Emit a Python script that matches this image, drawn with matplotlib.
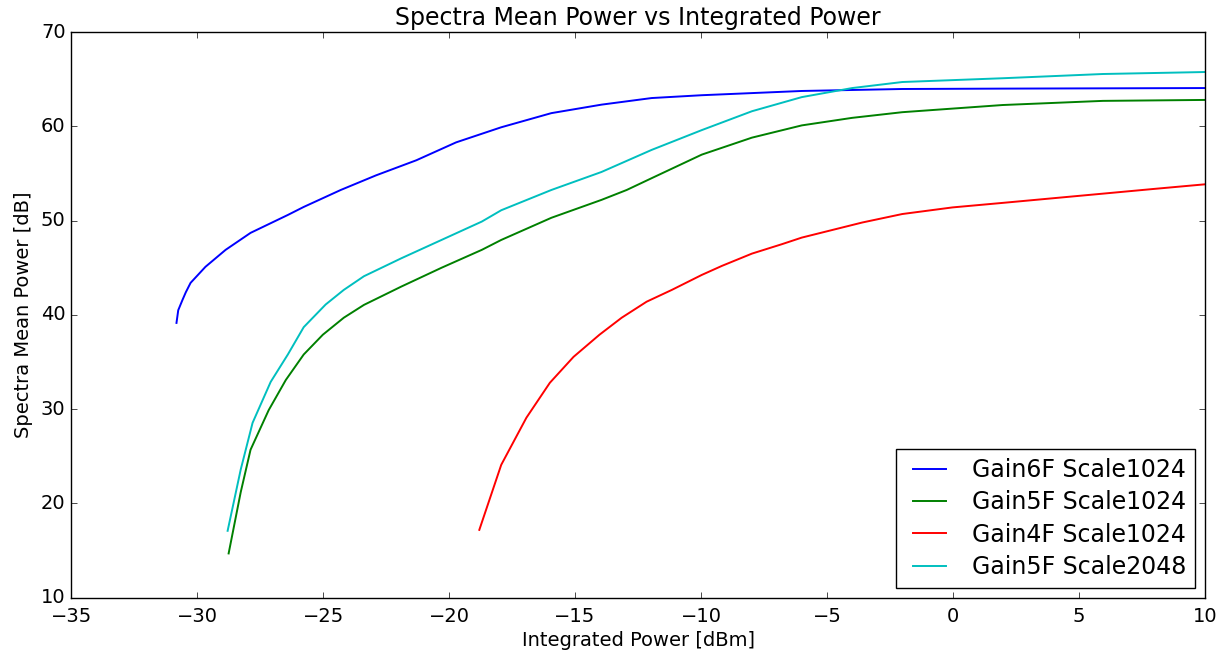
import matplotlib
matplotlib.use("Agg")
import matplotlib.pyplot as plt

plt.style.use("classic")

# measured curves: integrated power [dBm] -> spectra mean power [dB]
gain6_x = [-30.82, -30.75, -30.58, -30.45, -30.26, -29.67, -28.87, -27.88, -26.4, -25.77,
           -24.3, -22.9, -21.3, -19.72, -17.93, -15.94, -13.95, -11.96, -9.97, -6.0,
           -2.01, 1.97, 10.0]
gain6_y = [39.15, 40.5, 41.6, 42.4, 43.4, 45.1, 46.9, 48.7, 50.6, 51.45,
           53.25, 54.8, 56.4, 58.3, 59.9, 61.4, 62.3, 63.0, 63.3, 63.75,
           63.96, 64.0, 64.06]

gain5_x = [-28.75, -28.27, -27.88, -27.16, -26.48, -25.77, -25.01, -24.18, -23.38, -21.9,
           -20.3, -18.7, -17.93, -15.94, -13.95, -12.95, -11.96, -9.97, -7.98, -6.0,
           -4.0, -2.01, 1.97, 5.95, 10.0]
gain5_y = [14.7, 21.2, 25.7, 29.9, 33.1, 35.8, 37.9, 39.7, 41.06, 43.0,
           45.0, 46.9, 47.95, 50.3, 52.2, 53.25, 54.5, 57.0, 58.8, 60.1,
           60.9, 61.5, 62.26, 62.7, 62.8]

gain4_x = [-18.8, -17.93, -16.93, -16.0, -15.06, -14.03, -13.15, -12.16, -11.16, -9.97,
           -9.17, -7.98, -6.79, -6.0, -4.8, -3.6, -2.01, -0.02, 1.97, 3.96,
           5.95, 7.93, 10.0]
gain4_y = [17.2, 24.1, 29.1, 32.8, 35.55, 37.9, 39.7, 41.4, 42.65, 44.24,
           45.2, 46.5, 47.5, 48.2, 49.0, 49.8, 50.7, 51.4, 51.88, 52.37,
           52.86, 53.35, 53.85]

gain5s_x = [-28.79, -28.27, -27.8, -27.08, -26.4, -25.77, -24.9, -24.18, -23.38, -21.9,
            -20.3, -18.7, -17.93, -15.94, -13.95, -11.96, -9.97, -7.98, -6.0, -4.0,
            -2.01, 1.97, 5.95, 10.0]
gain5s_y = [17.1, 23.6, 28.55, 32.9, 35.8, 38.7, 41.1, 42.65, 44.1, 46.0,
            47.95, 49.9, 51.1, 53.25, 55.16, 57.5, 59.6, 61.6, 63.1, 64.06,
            64.7, 65.1, 65.55, 65.76]

labels = ["Gain6F Scale1024", "Gain5F Scale1024", "Gain4F Scale1024", "Gain5F Scale2048"]

fig, ax = plt.subplots(figsize=(12.27, 6.54), dpi=100)
fig.patch.set_facecolor("white")

lw = 1.4
ax.plot(gain6_x, gain6_y, color="b", lw=lw, label=labels[0])
ax.plot(gain5_x, gain5_y, color="g", lw=lw, label=labels[1])
ax.plot(gain4_x, gain4_y, color="r", lw=lw, label=labels[2])
ax.plot(gain5s_x, gain5s_y, color="c", lw=lw, label=labels[3])

ax.set_xlim(-35, 10)
ax.set_ylim(10, 70)
ax.set_title("Spectra Mean Power vs Integrated Power", fontsize=17)
ax.set_xlabel("Integrated Power [dBm]", fontsize=14, labelpad=3)
ax.set_ylabel("Spectra Mean Power [dB]", fontsize=14, labelpad=6)
ax.tick_params(labelsize=14)
ax.tick_params(axis="x", pad=7)
ax.legend(loc="lower right", fontsize=17, borderaxespad=0.4, labelspacing=0.35)

fig.subplots_adjust(left=0.058, right=0.982, top=0.951, bottom=0.086)
fig.savefig("out.png", dpi=100, facecolor="white")
